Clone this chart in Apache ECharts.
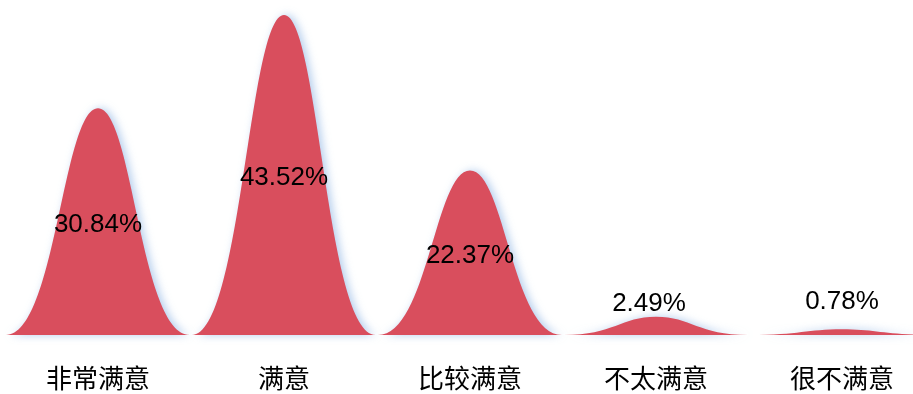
<!DOCTYPE html>
<html>
<head>
<meta charset="utf-8">
<script src="https://cdn.jsdelivr.net/npm/echarts@6/dist/echarts.min.js"></script>
<style>
  html, body { margin: 0; padding: 0; background: #fff; }
  #main { width: 913px; height: 394px; }
</style>
</head>
<body>
<div id="main"></div>
<script>
const categories = ['非常满意', '满意', '比较满意', '不太满意', '很不满意'];
const values = [30.84, 43.52, 22.37, 2.49, 0.78];
// small hills get their label above the shape
const labelTop = [false, false, false, true, true];

let myChart = echarts.init(document.getElementById('main'));

let option = {
  animation: false,
  grid: {
    left: 5,
    right: -22,
    top: 15,
    bottom: 59,
    outerBoundsMode: 'none'
  },
  xAxis: {
    type: 'category',
    data: categories,
    axisLine: { show: false },
    axisTick: { show: false },
    axisLabel: {
      margin: 30,
      fontSize: 26,
      color: '#000',
      fontFamily: 'Noto Sans CJK SC'
    }
  },
  yAxis: {
    type: 'value',
    min: 0,
    max: 'dataMax',
    show: false,
    splitLine: { show: false }
  },
  series: [{
    type: 'pictorialBar',
    barWidth: 184,
    // bell shaped hill
    symbol: 'path://M0,10 C2.7,10 3.1,0 5,0 C6.9,0 7.3,10 10,10 Z',
    itemStyle: {
      color: '#d94e5d',
      shadowColor: 'rgba(150,185,230,0.7)',
      shadowBlur: 8,
      shadowOffsetX: 3
    },
    label: {
      show: true,
      position: 'inside',
      offset: [0, 3],
      fontSize: 26,
      color: '#000',
      fontFamily: 'Liberation Sans',
      formatter: (p) => p.value.toFixed(2) + '%'
    },
    data: values.map((v, i) => ({
      value: v,
      label: labelTop[i]
        ? { position: 'top', offset: i === 3 ? [-7, 1] : [0, 0], distance: i === 3 ? 1 : 14 }
        : {}
    }))
  }]
};

myChart.setOption(option);
</script>
</body>
</html>
